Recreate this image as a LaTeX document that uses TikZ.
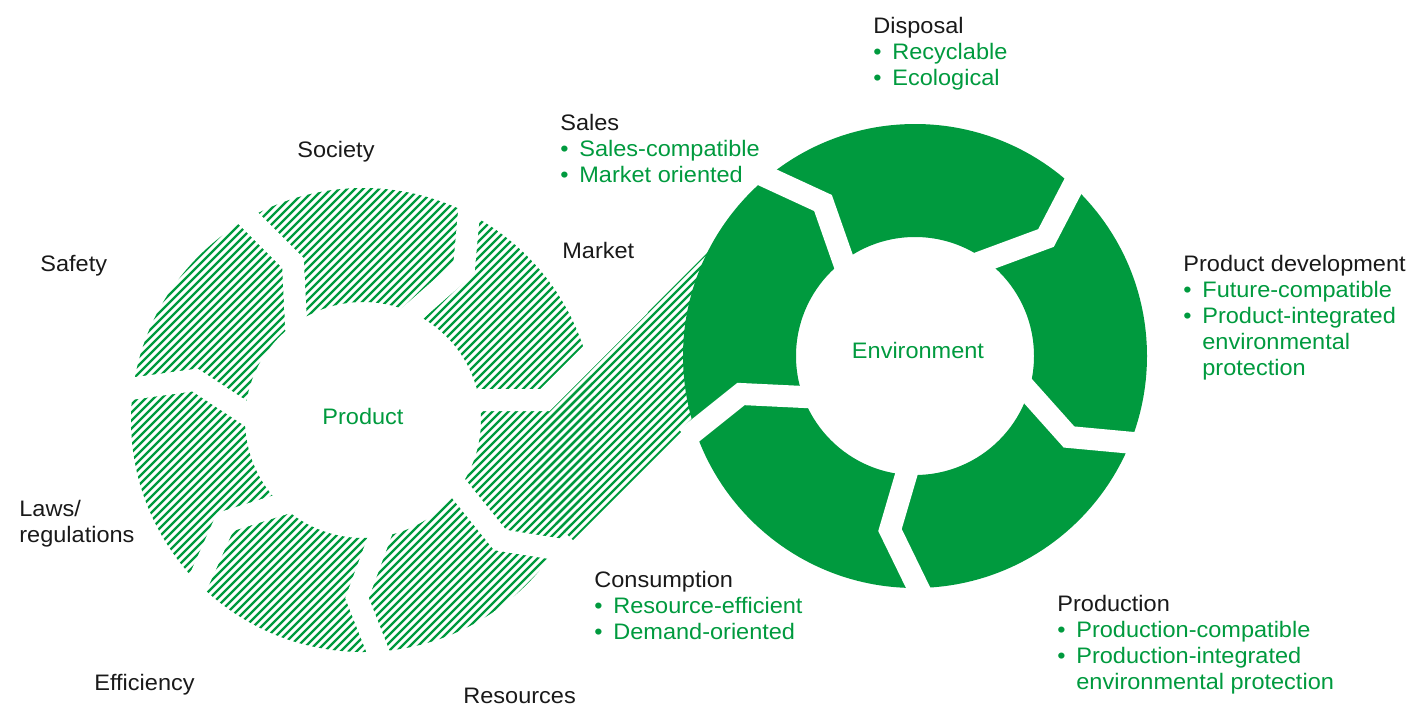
\documentclass[tikz,border=0pt]{standalone}
\usepackage{fontspec}
\setmainfont{Liberation Sans}[FakeStretch=1.05]
\definecolor{eco}{RGB}{0,154,62}
\definecolor{ink}{RGB}{25,25,25}
\newcommand{\blt}[1]{\textcolor{eco}{\makebox[9.5pt][l]{\textbullet}#1}}
\newcommand{\cnt}[1]{\textcolor{eco}{\hspace*{9.5pt}#1}}
\begin{document}
\begin{tikzpicture}[x=0.5pt,y=-0.5pt,
  gap/.style={white, line width=11pt, line join=miter, miter limit=10, line cap=butt},
  hatchline/.style={eco, line width=1.15pt},
  lbl/.style={anchor=north west, inner sep=0pt, align=left, font=\fontsize{11.2}{13}\selectfont, text=ink},
  ctr/.style={inner sep=0pt, font=\fontsize{11.2}{13}\selectfont, text=eco}]
\useasboundingbox (0,0) rectangle (1410,707);
% hatched ring (Product)
\begin{scope}[even odd rule]
  \clip (363,420) circle[radius=232] (363,420) circle[radius=118];
  \foreach \c in {280,288,...,1400} \draw[hatchline] (100,{\c-100}) -- (800,{\c-800});
\end{scope}
% hatched band
\begin{scope}
  \clip (548,412) -- (745,215) -- (795,318) -- (573,540) -- (530,500) -- cycle;
  \foreach \c in {280,288,...,1400} \draw[hatchline] (100,{\c-100}) -- (800,{\c-800});
\end{scope}
% gaps of the Product ring
\draw[gap] (235,205) -- (293,263) -- (297,345);
\draw[gap] (471,190) -- (464,268) -- (398,326);
\draw[gap] (460,400) -- (545,400) -- (640,305);
\draw[gap] (450,478) -- (500,540) -- (625,560);
\draw[gap] (385,522) -- (357,598) -- (386,672);
\draw[gap] (305,497) -- (225,522) -- (192,596);
\draw[gap] (115,391) -- (195,380) -- (265,426);
% Environment ring
\fill[eco, even odd rule] (915,356) circle[radius=232] (915,356) circle[radius=119];
\draw[gap] (745,167) -- (823,203) -- (850,280);
\draw[gap] (1084,165) -- (1046,238) -- (965,268);
\draw[gap] (1010,371) -- (1069,437) -- (1155,445);
\draw[gap] (912,455) -- (890,530) -- (928,608);
\draw[gap] (825,398) -- (741,394) -- (686,438);
% centre labels
\node[ctr] (prod) at (363,416) {Product};
\node[ctr] (env) at (918,350) {Environment};
% labels
\node[lbl] (disp) at (873,14.8) {\strut Disposal\\\blt{Recyclable}\\\blt{Ecological}};
\node[lbl] (sales) at (560,111.8) {\strut Sales\\\blt{Sales-compatible}\\\blt{Market oriented}};
\node[lbl] (soc) at (297,138.8) {\strut Society};
\node[lbl] (mkt) at (562,239.8) {\strut Market};
\node[lbl] (safe) at (40,252.8) {\strut Safety};
\node[lbl] (pdev) at (1183,252.8) {\strut Product development\\\blt{Future-compatible}\\\blt{Product-integrated}\\\cnt{environmental}\\\cnt{protection}};
\node[lbl] (laws) at (19,497.8) {\strut Laws/\\regulations};
\node[lbl] (cons) at (594,568.8) {\strut Consumption\\\blt{Resource-efficient}\\\blt{Demand-oriented}};
\node[lbl] (prodn) at (1057,592.8) {\strut Production\\\blt{Production-compatible}\\\blt{Production-integrated}\\\cnt{environmental protection}};
\node[lbl] (eff) at (94,671.8) {\strut Efficiency};
\node[lbl] (res) at (463,684.8) {\strut Resources};
\end{tikzpicture}
\end{document}
